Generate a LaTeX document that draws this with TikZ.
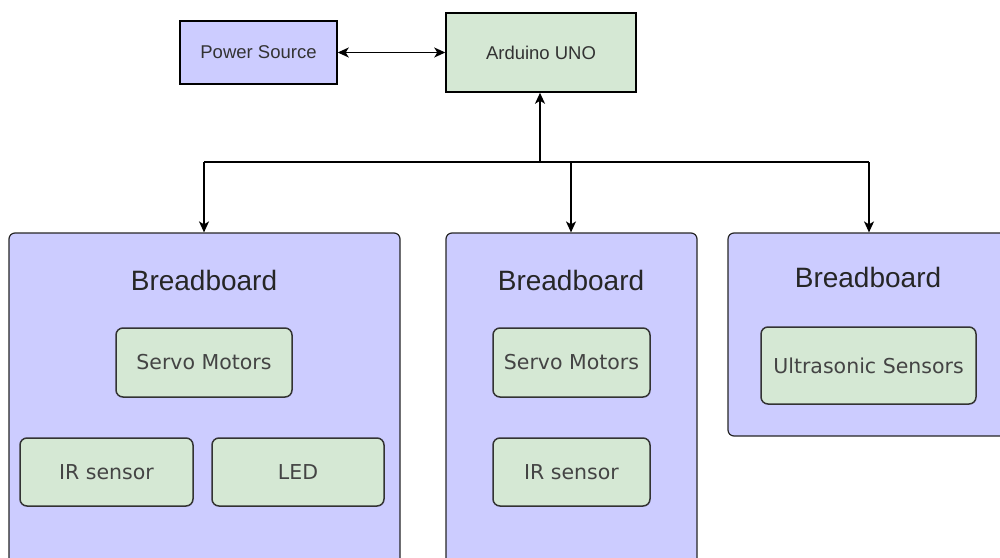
\documentclass[tikz,border=0pt]{standalone}
\usepackage{fontspec}
\setmainfont{Liberation Sans}
\newfontfamily\dvs{DejaVu Sans}
\usetikzlibrary{arrows.meta}
\definecolor{bbfill}{HTML}{CCCCFF}
\definecolor{gfill}{HTML}{D5E8D4}
\definecolor{txt}{HTML}{333333}
\definecolor{ptxt}{HTML}{444444}
\begin{document}
\begin{tikzpicture}[x=1pt,y=-1pt,
  board/.style={draw=black!85, fill=bbfill, rounded corners=6pt, line width=1.2pt, inner sep=0pt},
  part/.style={draw=txt, fill=gfill, rounded corners=7pt, line width=1.5pt, inner sep=0pt,
    font=\dvs\fontsize{20.5}{24}\selectfont, text=ptxt},
  topbox/.style={draw=black, line width=1.5pt, inner sep=0pt,
    font=\fontsize{18.5}{22}\selectfont, text=txt},
  title/.style={font=\fontsize{28}{32}\selectfont, text=black!85, inner sep=0pt},
  conn/.style={line width=1.5pt, -{Stealth[length=11pt,width=10pt,inset=3pt]}}]
\useasboundingbox (0,0) rectangle (1000,557);
\clip (0,0) rectangle (1000,557);

% top boxes
\node[topbox, fill=bbfill, minimum width=157pt, minimum height=63pt] (power) at (258.5,52.5) {Power Source};
\node[topbox, fill=gfill, minimum width=190pt, minimum height=79pt] (ard) at (541,52.5) {Arduino UNO};

% breadboards
\node[board, minimum width=391pt, minimum height=347pt] (b1) at (204.5,406.5) {};
\node[board, minimum width=251pt, minimum height=347pt] (b2) at (571.5,406.5) {};
\node[board, minimum width=292pt, minimum height=203pt] (b3) at (874,334.5) {};

\node[title] (t1) at (204,280) {Breadboard};
\node[title] (t2) at (571,280) {Breadboard};
\node[title] (t3) at (868,277) {Breadboard};

% parts
\node[part, minimum width=176pt, minimum height=69pt] (s1) at (204,362.5) {Servo Motors};
\node[part, minimum width=173pt, minimum height=68pt] (ir1) at (106.5,472) {IR sensor};
\node[part, minimum width=172pt, minimum height=68pt] (led) at (298,472) {LED};
\node[part, minimum width=157pt, minimum height=69pt] (s2) at (571.5,362.5) {Servo Motors};
\node[part, minimum width=157pt, minimum height=68pt] (ir2) at (571.5,472) {IR sensor};
\node[part, minimum width=215pt, minimum height=77pt] (us) at (868.5,365.5) {Ultrasonic Sensors};

% connectors
\draw[line width=1.5pt, {Stealth[length=11pt,width=10pt,inset=3pt]}-{Stealth[length=11pt,width=10pt,inset=3pt]}] (power.east) -- (ard.west);
\coordinate (bus) at (540,162);
\coordinate (j1) at (204,162);
\coordinate (j2) at (571,162);
\coordinate (j3) at (869,162);
\draw[conn] (bus) -- (bus |- ard.south);
\draw[line width=1.5pt] (j1) -- (j3);
\draw[conn] (j1) -- (j1 |- b1.north);
\draw[conn] (j2) -- (j2 |- b2.north);
\draw[conn] (j3) -- (j3 |- b3.north);
\end{tikzpicture}
\end{document}
